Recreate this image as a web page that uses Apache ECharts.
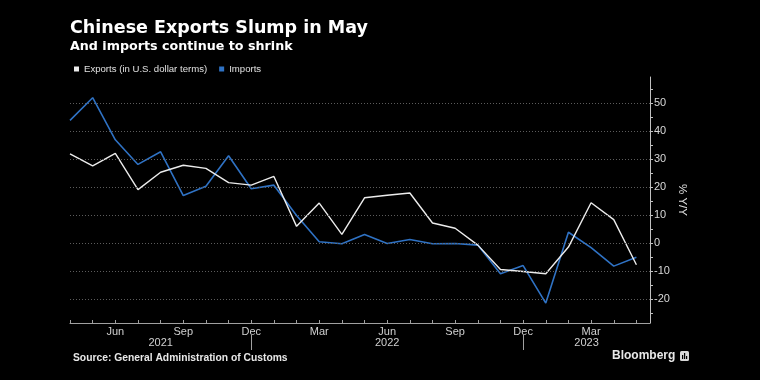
<!DOCTYPE html>
<html>
<head>
<meta charset="utf-8">
<script src="https://cdn.jsdelivr.net/npm/echarts@6/dist/echarts.min.js"></script>
<style>
html,body{margin:0;padding:0;background:#000;}
#chart{width:760px;height:380px;}
</style>
</head>
<body>
<div id="chart"></div>
<script>
// ---- data (Apr 2021 .. May 2023), % Y/Y ----
var months = ['2021-04','2021-05','2021-06','2021-07','2021-08','2021-09','2021-10','2021-11','2021-12',
  '2022-01','2022-02','2022-03','2022-04','2022-05','2022-06','2022-07','2022-08','2022-09','2022-10','2022-11','2022-12',
  '2023-01','2023-02','2023-03','2023-04','2023-05'];
var exportsYoY = [32.0, 27.7, 32.1, 19.2, 25.4, 27.9, 26.8, 21.7, 20.8, 23.9, 6.1, 14.4, 3.2, 16.3, 17.2, 18.0,
  7.3, 5.4, -0.6, -9.3, -10.0, -10.8, -1.3, 14.5, 8.5, -7.6];
var importsYoY = [43.9, 52.0, 37.0, 28.2, 32.7, 17.1, 20.4, 31.3, 19.5, 20.8, 10.0, 0.6, -0.1, 3.2, 0.0, 1.4,
  -0.1, 0.0, -0.6, -10.8, -7.9, -21.3, 4.0, -1.5, -8.1, -4.9];
var monthLabelNames = ['Jan','Feb','Mar','Apr','May','Jun','Jul','Aug','Sep','Oct','Nov','Dec'];
var monthTickLabels = ['Jun','Sep','Dec','Mar'];
var yearLabels = ['2021','2022','2023'];
var yTickLabels = [-20, -10, 0, 10, 20, 30, 40, 50];
var yMinorTicks = [-25, -20, -15, -10, -5, 0, 5, 10, 15, 20, 25, 30, 35, 40, 45, 50, 55];
var seriesNames = ['Exports (in U.S. dollar terms)', 'Imports'];

// ---- derived helpers ----
var idx = months.map(function (m, i) { return i; });
var xMax = months.length - 1 + 0.6;
var labelIdx = idx.filter(function (i) {
  return monthTickLabels.indexOf(monthLabelNames[+months[i].slice(5) - 1]) >= 0;
});
var yearSep = idx.filter(function (i) { return months[i].slice(5) === '12'; });
var yearBounds = [0].concat(yearSep).concat([xMax]);
var yearPos = yearLabels.map(function (y, k) { return (yearBounds[k] + yearBounds[k + 1]) / 2; });

function pairs(arr) { return arr.map(function (v, i) { return [i, v]; }); }

var chart = echarts.init(document.getElementById('chart'), null, {renderer: 'canvas'});
var sans = '"Liberation Sans", Arial, sans-serif';
var option = {
  backgroundColor: '#000',
  animation: false,
  title: [
    {text: 'Chinese Exports Slump in May', left: 70, top: 19, padding: 0,
      textStyle: {color: '#fff', fontSize: 17.5, fontWeight: 'bold', fontFamily: '"DejaVu Sans", sans-serif'}},
    {text: 'And imports continue to shrink', left: 70, top: 40, padding: 0,
      textStyle: {color: '#fff', fontSize: 12.7, fontWeight: 'bold', fontFamily: '"DejaVu Sans", sans-serif'}},
    {text: 'Source: General Administration of Customs', left: 73, top: 353, padding: 0,
      textStyle: {color: '#e8e8e8', fontSize: 10.3, fontWeight: 'bold', fontFamily: sans}},
    {text: 'Bloomberg', left: 612, top: 350, padding: 0,
      textStyle: {color: '#e8e8e8', fontSize: 12, fontWeight: 'bold', fontFamily: sans}}
  ],
  graphic: [
    {type: 'group', left: 680, top: 351, children: [
      {type: 'rect', shape: {x: 0, y: 0, width: 9, height: 10, r: 1.5}, style: {fill: '#d8d8d8'}},
      {type: 'rect', shape: {x: 2, y: 4, width: 1.2, height: 4}, style: {fill: '#000'}},
      {type: 'rect', shape: {x: 4, y: 2, width: 1.2, height: 6}, style: {fill: '#000'}},
      {type: 'rect', shape: {x: 6, y: 5, width: 1.2, height: 3}, style: {fill: '#000'}}
    ]}
  ],
  legend: {
    data: seriesNames, left: 74, top: 64, padding: 0,
    icon: 'rect', itemWidth: 5, itemHeight: 5, itemGap: 12,
    textStyle: {color: '#e0e0e0', fontSize: 9.6, fontFamily: sans},
    selectedMode: false
  },
  grid: {left: 70, right: 110, top: 77, bottom: 57, containLabel: false},
  xAxis: [
    {
      type: 'value', min: 0, max: xMax, position: 'bottom',
      axisLine: {show: true, onZero: false, lineStyle: {color: '#a0a0a0', width: 1}},
      axisTick: {show: true, customValues: idx, length: 3, inside: true, lineStyle: {color: '#a0a0a0'}},
      axisLabel: {
        customValues: labelIdx, margin: 3, color: '#d0d0d0', fontSize: 11, fontFamily: sans,
        formatter: function (v) { var i = Math.round(v); return monthLabelNames[+months[i].slice(5) - 1]; }
      },
      splitLine: {show: false}
    },
    {
      type: 'value', min: 0, max: xMax, position: 'bottom', offset: 12,
      axisLine: {show: false, onZero: false},
      axisTick: {show: true, customValues: yearSep, length: 15, lineStyle: {color: '#a0a0a0'}},
      axisLabel: {
        customValues: yearPos, margin: 2, color: '#d0d0d0', fontSize: 11, fontFamily: sans,
        formatter: function (v) {
          for (var k = 0; k < yearPos.length; k++) if (Math.abs(yearPos[k] - v) < 0.01) return yearLabels[k];
          return '';
        }
      },
      splitLine: {show: false}
    }
  ],
  yAxis: {
    type: 'value', position: 'right', min: -28.4, max: 59.4,
    name: '% Y/Y', nameLocation: 'middle', nameRotate: -90, nameGap: 26, nameMoveOverlap: false,
    nameTextStyle: {color: '#e0e0e0', fontSize: 11.5, fontFamily: sans},
    axisLine: {show: true, onZero: false, lineStyle: {color: '#c0c0c0', width: 1}},
    axisTick: {show: true, customValues: yMinorTicks, length: 3, lineStyle: {color: '#c0c0c0'}},
    axisLabel: {customValues: yTickLabels, margin: 4, color: '#d8d8d8', fontSize: 11, fontFamily: sans},
    splitLine: {show: false}
  },
  series: [
    {
      name: seriesNames[1], type: 'line', data: pairs(importsYoY), xAxisIndex: 0,
      showSymbol: false, symbol: 'none',
      itemStyle: {color: '#2f72c4'},
      lineStyle: {color: '#2f72c4', width: 1.6},
      markLine: {
        silent: true, symbol: ['none', 'none'], animation: false,
        label: {show: false},
        lineStyle: {color: '#5c5c5c', type: [1, 2], width: 1},
        emphasis: {disabled: true},
        data: yTickLabels.map(function (v) { return {yAxis: v}; })
      }
    },
    {
      name: seriesNames[0], type: 'line', data: pairs(exportsYoY), xAxisIndex: 0,
      showSymbol: false, symbol: 'none',
      itemStyle: {color: '#ececec'},
      lineStyle: {color: '#ececec', width: 1.4}
    }
  ]
};
chart.setOption(option);
</script>
</body>
</html>
